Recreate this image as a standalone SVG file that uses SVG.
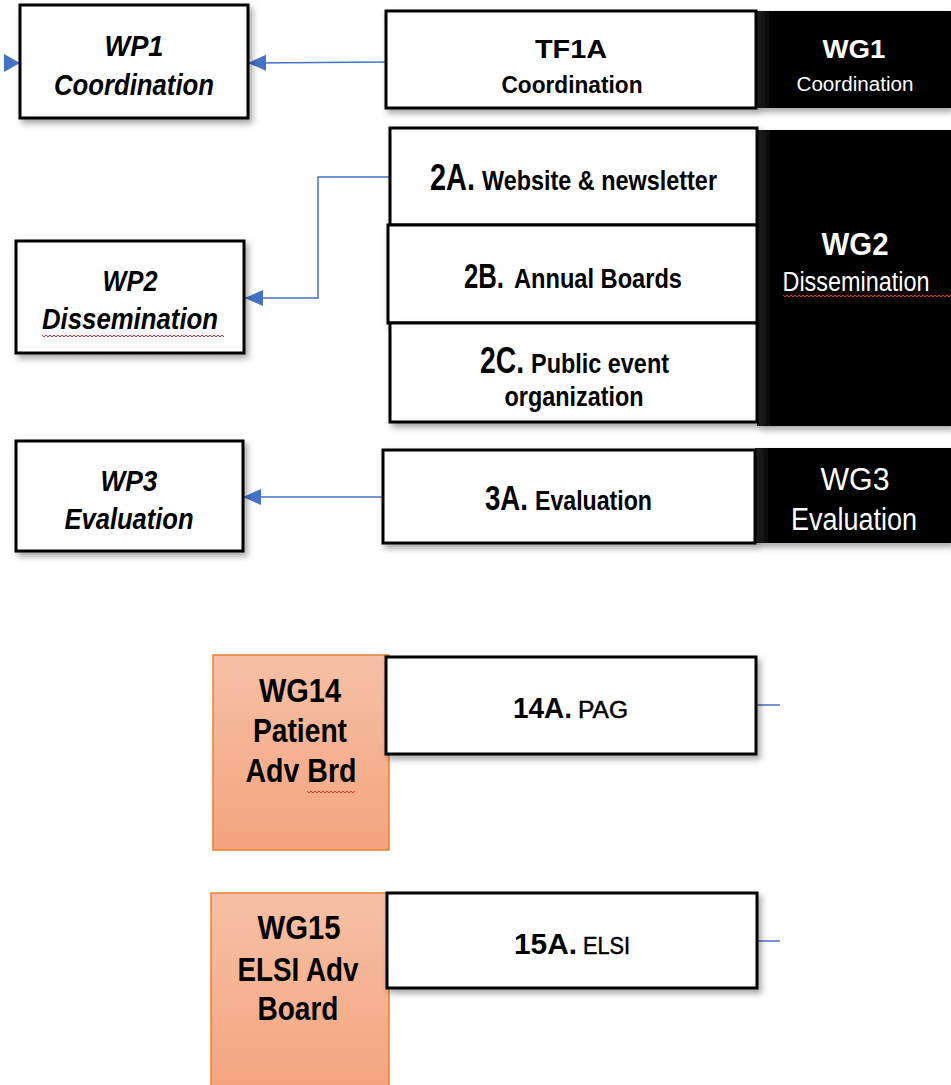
<svg xmlns="http://www.w3.org/2000/svg" width="951" height="1085" viewBox="0 0 951 1085">
<defs>
<style>
text{font-family:"Liberation Sans",Arial,sans-serif;text-anchor:middle;}
.s{text-anchor:start;}
.box{fill:#fff;stroke:#000;stroke-width:3;}
.wp{font-style:italic;font-weight:bold;font-size:30px;fill:#000;}
.b{font-weight:bold;fill:#000;}
.n{font-weight:normal;fill:#000;stroke:#000;stroke-width:0.5;}
.w{fill:#fff;}
.wb{fill:#fff;font-weight:bold;}
.conn{fill:none;stroke:#4472c4;stroke-width:1.5;}
.sq{fill:none;stroke:#e03030;stroke-width:1;}
.org{fill:url(#orangeGrad);stroke:#ed7d31;stroke-width:1.5;}
.blk{fill:url(#blackGrad);}
</style>
<filter id="sh" x="-10%" y="-10%" width="125%" height="130%">
<feDropShadow dx="3" dy="4" stdDeviation="3" flood-color="#000" flood-opacity="0.35"/>
</filter>
<linearGradient id="orangeGrad" x1="0" y1="0" x2="0" y2="1">
<stop offset="0" stop-color="#f6c0a6"/>
<stop offset="1" stop-color="#f4a47e"/>
</linearGradient>
<linearGradient id="blackGrad" x1="0" y1="0" x2="1" y2="0">
<stop offset="0" stop-color="#2a2a2a"/>
<stop offset="0.08" stop-color="#000"/>
<stop offset="1" stop-color="#000"/>
</linearGradient>
<marker id="arr" markerUnits="userSpaceOnUse" markerWidth="20" markerHeight="18" refX="18" refY="8" orient="auto">
<path d="M0,0 L18,8 L0,16 z" fill="#4472c4"/>
</marker>
</defs>
<rect width="951" height="1085" fill="#fff"/>

<g id="connectors">
<polygon points="4,54 20,63 4,72" fill="#4472c4"/>
<line class="conn" x1="386" y1="62" x2="248" y2="63" marker-end="url(#arr)"/>
<polyline class="conn" points="390,177 318,177 318,298 245,298" marker-end="url(#arr)"/>
<line class="conn" x1="383" y1="497" x2="243" y2="497" marker-end="url(#arr)"/>
<line class="conn" x1="756" y1="705" x2="780" y2="705"/>
<line class="conn" x1="757" y1="941" x2="780" y2="941"/>
</g>

<g id="WP1">
<rect class="box" x="20" y="5" width="228" height="113" filter="url(#sh)"/>
<text class="wp" x="134" y="56" textLength="59" lengthAdjust="spacingAndGlyphs">WP1</text>
<text class="wp" x="134" y="95" textLength="160" lengthAdjust="spacingAndGlyphs">Coordination</text>
</g>

<g id="WG1">
<rect class="blk" x="756" y="11" width="195" height="97" filter="url(#sh)"/>
<text class="wb" x="854" y="58" font-size="25" textLength="63" lengthAdjust="spacingAndGlyphs">WG1</text>
<text class="w" x="855" y="91" font-size="20" textLength="117" lengthAdjust="spacingAndGlyphs">Coordination</text>
</g>
<g id="TF1A">
<rect class="box" x="386" y="11" width="370" height="97" filter="url(#sh)"/>
<text class="b" x="571" y="58" font-size="25" textLength="72" lengthAdjust="spacingAndGlyphs">TF1A</text>
<text class="b" x="572" y="93" font-size="23" textLength="141" lengthAdjust="spacingAndGlyphs">Coordination</text>
</g>

<g id="WG2">
<rect class="blk" x="757" y="130" width="194" height="296" filter="url(#sh)"/>
<text class="wb" x="855" y="255" font-size="32" textLength="67" lengthAdjust="spacingAndGlyphs">WG2</text>
<text class="w" x="856" y="291" font-size="27" textLength="147" lengthAdjust="spacingAndGlyphs">Dissemination</text>
<path class="sq" d="M783,295 l2,2 l2,-2 l2,2 l2,-2 l2,2 l2,-2 l2,2 l2,-2 l2,2 l2,-2 l2,2 l2,-2 l2,2 l2,-2 l2,2 l2,-2 l2,2 l2,-2 l2,2 l2,-2 l2,2 l2,-2 l2,2 l2,-2 l2,2 l2,-2 l2,2 l2,-2 l2,2 l2,-2 l2,2 l2,-2 l2,2 l2,-2 l2,2 l2,-2 l2,2 l2,-2 l2,2 l2,-2 l2,2 l2,-2 l2,2 l2,-2 l2,2 l2,-2 l2,2 l2,-2 l2,2 l2,-2 l2,2 l2,-2 l2,2 l2,-2 l2,2 l2,-2 l2,2 l2,-2 l2,2 l2,-2 l2,2 l2,-2 l2,2 l2,-2 l2,2 l2,-2 l2,2 l2,-2 l2,2 l2,-2 l2,2 l2,-2 l2,2 l2,-2 l2,2 l2,-2 l2,2 l2,-2 l2,2 l2,-2 l2,2 l2,-2 l2,2 l2,-2 l2,2"/>
</g>
<g id="2A">
<rect class="box" x="390" y="128" width="367" height="97" filter="url(#sh)"/>
<text class="b s" x="430" y="190" font-size="36" textLength="45" lengthAdjust="spacingAndGlyphs">2A.</text>
<text class="b s" x="482" y="190" font-size="28" textLength="235" lengthAdjust="spacingAndGlyphs">Website &amp; newsletter</text>
</g>
<g id="2B">
<rect class="box" x="388" y="225" width="369" height="98" filter="url(#sh)"/>
<text class="b s" x="464" y="288" font-size="35" textLength="40" lengthAdjust="spacingAndGlyphs">2B.</text>
<text class="b s" x="514" y="288" font-size="28" textLength="168" lengthAdjust="spacingAndGlyphs">Annual Boards</text>
</g>
<g id="2C">
<rect class="box" x="390" y="323" width="367" height="99" filter="url(#sh)"/>
<text class="b s" x="480" y="373" font-size="36" textLength="44" lengthAdjust="spacingAndGlyphs">2C.</text>
<text class="b s" x="531" y="373" font-size="28" textLength="138" lengthAdjust="spacingAndGlyphs">Public event</text>
<text class="b" x="574" y="406" font-size="28" textLength="139" lengthAdjust="spacingAndGlyphs">organization</text>
</g>

<g id="WP2">
<rect class="box" x="16" y="241" width="228" height="112" filter="url(#sh)"/>
<text class="wp" x="130" y="291" textLength="55" lengthAdjust="spacingAndGlyphs">WP2</text>
<text class="wp" x="130" y="329" textLength="176" lengthAdjust="spacingAndGlyphs">Dissemination</text>
<path class="sq" d="M42,335 l2,2 l2,-2 l2,2 l2,-2 l2,2 l2,-2 l2,2 l2,-2 l2,2 l2,-2 l2,2 l2,-2 l2,2 l2,-2 l2,2 l2,-2 l2,2 l2,-2 l2,2 l2,-2 l2,2 l2,-2 l2,2 l2,-2 l2,2 l2,-2 l2,2 l2,-2 l2,2 l2,-2 l2,2 l2,-2 l2,2 l2,-2 l2,2 l2,-2 l2,2 l2,-2 l2,2 l2,-2 l2,2 l2,-2 l2,2 l2,-2 l2,2 l2,-2 l2,2 l2,-2 l2,2 l2,-2 l2,2 l2,-2 l2,2 l2,-2 l2,2 l2,-2 l2,2 l2,-2 l2,2 l2,-2 l2,2 l2,-2 l2,2 l2,-2 l2,2 l2,-2 l2,2 l2,-2 l2,2 l2,-2 l2,2 l2,-2 l2,2 l2,-2 l2,2 l2,-2 l2,2 l2,-2 l2,2 l2,-2 l2,2 l2,-2 l2,2 l2,-2 l2,2 l2,-2 l2,2 l2,-2 l2,2 l2,-2 l2,2"/>
</g>

<g id="WP3">
<rect class="box" x="16" y="441" width="227" height="110" filter="url(#sh)"/>
<text class="wp" x="129" y="491" textLength="57" lengthAdjust="spacingAndGlyphs">WP3</text>
<text class="wp" x="129" y="529" textLength="129" lengthAdjust="spacingAndGlyphs">Evaluation</text>
</g>
<g id="WG3">
<rect class="blk" x="755" y="448" width="196" height="95" filter="url(#sh)"/>
<text class="w" x="855" y="490" font-size="31" textLength="69" lengthAdjust="spacingAndGlyphs">WG3</text>
<text class="w" x="854" y="530" font-size="31" textLength="126" lengthAdjust="spacingAndGlyphs">Evaluation</text>
</g>
<g id="3A">
<rect class="box" x="383" y="450" width="372" height="93" filter="url(#sh)"/>
<text class="b s" x="485" y="510" font-size="35" textLength="43" lengthAdjust="spacingAndGlyphs">3A.</text>
<text class="b s" x="535" y="510" font-size="28" textLength="117" lengthAdjust="spacingAndGlyphs">Evaluation</text>
</g>

<g id="WG14">
<rect class="org" x="213" y="655" width="176" height="195"/>
<text class="b" x="300" y="702" font-size="34" textLength="82" lengthAdjust="spacingAndGlyphs">WG14</text>
<text class="b" x="300" y="742" font-size="34" textLength="94" lengthAdjust="spacingAndGlyphs">Patient</text>
<text class="b" x="301" y="782" font-size="34" textLength="111" lengthAdjust="spacingAndGlyphs">Adv Brd</text>
<path class="sq" d="M307,791 l2,2 l2,-2 l2,2 l2,-2 l2,2 l2,-2 l2,2 l2,-2 l2,2 l2,-2 l2,2 l2,-2 l2,2 l2,-2 l2,2 l2,-2 l2,2 l2,-2 l2,2 l2,-2 l2,2 l2,-2 l2,2 l2,-2"/>
</g>
<g id="14A">
<rect class="box" x="386" y="657" width="370" height="97" filter="url(#sh)"/>
<text class="b s" x="513" y="718" font-size="30" textLength="59" lengthAdjust="spacingAndGlyphs">14A.</text>
<text class="n s" x="578" y="718" font-size="23" textLength="50" lengthAdjust="spacingAndGlyphs">PAG</text>
</g>

<g id="WG15">
<rect class="org" x="211" y="893" width="178" height="200"/>
<text class="b" x="299" y="939" font-size="34" textLength="83" lengthAdjust="spacingAndGlyphs">WG15</text>
<text class="b" x="298" y="981" font-size="34" textLength="121" lengthAdjust="spacingAndGlyphs">ELSI Adv</text>
<text class="b" x="298" y="1020" font-size="34" textLength="81" lengthAdjust="spacingAndGlyphs">Board</text>
</g>
<g id="15A">
<rect class="box" x="387" y="893" width="370" height="95" filter="url(#sh)"/>
<text class="b s" x="514" y="954" font-size="30" textLength="63" lengthAdjust="spacingAndGlyphs">15A.</text>
<text class="n s" x="583" y="954" font-size="23" textLength="47" lengthAdjust="spacingAndGlyphs">ELSI</text>
</g>
</svg>
